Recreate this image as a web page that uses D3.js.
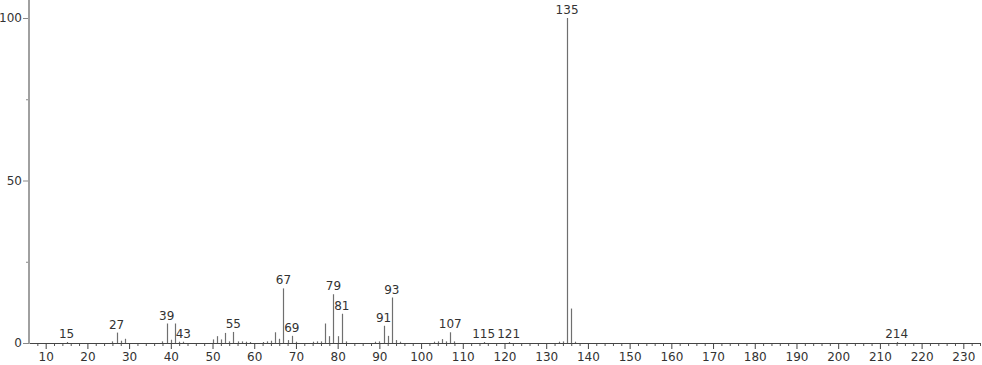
<!DOCTYPE html>
<html>
<head>
<meta charset="utf-8">
<script src="https://cdn.jsdelivr.net/npm/d3@7"></script>
<style>
  body { margin: 0; background: #fff; }
  svg text { font-family: "DejaVu Sans", sans-serif; }
</style>
</head>
<body>
<div class="data"></div>
<script>
// Peak list (m/z and relative intensity, %)
const mz = [15, 26, 27, 28, 29, 38, 39, 40, 41, 42, 43, 50, 51, 52, 53, 54, 55, 56, 57, 58, 59,
    62, 63, 64, 65, 66, 67, 68, 69, 70, 74, 75, 76, 77, 78, 79, 80, 81, 82,
    89, 90, 91, 92, 93, 94, 95, 103, 104, 105, 106, 107, 108, 115, 121,
    133, 134, 135, 136, 137, 214]
const intensity = [0.3, 0.5, 3.2, 0.7, 1.3, 0.5, 6.0, 1.0, 6.0, 0.4, 0.4, 1.1, 2.1, 1.1, 3.1, 0.5, 3.4, 0.5, 0.5, 0.4, 0.3,
    0.3, 0.5, 0.7, 3.3, 1.3, 16.8, 0.9, 2.2, 0.4, 0.4, 0.5, 0.5, 6.0, 2.1, 15.0, 2.1, 9.0, 0.5,
    0.4, 0.5, 5.3, 2.2, 14.0, 0.9, 0.4, 0.4, 0.5, 1.2, 0.5, 3.3, 0.5, 0.3, 0.3,
    0.4, 0.5, 100, 10.6, 0.4, 0.3]
// Peaks that carry a label
const labeled = [15, 27, 39, 43, 55, 67, 69, 79, 81, 91, 93, 107, 115, 121, 135, 214]

const xMajor = d3.range(10, 231, 10)
const xMinor = d3.range(8, 235, 2).filter(d => d % 10 !== 0)
const yMajor = [0, 50, 100]
const yMinor = [25, 75]

const width = 982, height = 365
const margin = {top: 18, left: 29, right: 2, bottom: 22}

const x = d3.scaleLinear()
    .domain([6, 234])
    .range([margin.left, width - margin.right])

const y = d3.scaleLinear()
    .domain([0, 100])
    .range([height - margin.bottom, margin.top])

const svg = d3.select(".data").append("svg")
    .attr("width", width)
    .attr("height", height)

const peaks = mz.map((m, i) => ({mz: m, value: intensity[i]}))

// bars (sticks)
svg.append("g")
    .selectAll("line")
    .data(peaks)
    .enter().append("line")
        .attr("x1", d => Math.round(x(d.mz)) + 0.5)
        .attr("x2", d => Math.round(x(d.mz)) + 0.5)
        .attr("y1", y(0))
        .attr("y2", d => y(d.value))
        .attr("stroke", "#6f6f6f")
        .attr("stroke-width", 1.2)

// minor ticks on x
svg.append("g")
    .attr("transform", "translate(0," + y(0) + ")")
    .call(d3.axisBottom(x).tickValues(xMinor).tickSize(3).tickFormat(""))
    .call(g => g.select(".domain").remove())
    .call(g => g.selectAll("line").attr("stroke", "#555"))

// x axis
svg.append("g")
    .attr("transform", "translate(0," + y(0) + ")")
    .call(d3.axisBottom(x).tickValues(xMajor).tickSize(6).tickSizeOuter(0).tickPadding(3))
    .call(g => g.select(".domain").attr("stroke", "#444"))
    .call(g => g.selectAll("line").attr("stroke", "#444"))
    .call(g => g.selectAll("text").attr("font-size", 12).attr("fill", "#333")
        .attr("font-family", "DejaVu Sans"))

// minor ticks on y
svg.append("g")
    .attr("transform", "translate(" + margin.left + ",0)")
    .call(d3.axisLeft(y).tickValues(yMinor).tickSize(3).tickFormat(""))
    .call(g => g.select(".domain").remove())
    .call(g => g.selectAll("line").attr("stroke", "#888"))

// y axis
svg.append("g")
    .attr("transform", "translate(" + margin.left + ",0)")
    .call(d3.axisLeft(y).tickValues(yMajor).tickSize(6).tickSizeOuter(0).tickPadding(1))
    .call(g => g.select(".domain").remove())
    .call(g => g.selectAll("line").attr("stroke", "#888"))
    .call(g => g.selectAll("text").attr("font-size", 12).attr("fill", "#333")
        .attr("font-family", "DejaVu Sans"))

svg.append("line")
    .attr("x1", margin.left).attr("x2", margin.left)
    .attr("y1", 0).attr("y2", y(0))
    .attr("stroke", "#a0a0a0")
    .attr("stroke-width", 2)

// peak labels
svg.append("g")
    .selectAll("text")
    .data(peaks.filter(d => labeled.includes(d.mz)))
    .enter().append("text")
        .attr("x", d => x(d.mz))
        .attr("y", d => y(d.value) - 4)
        .attr("text-anchor", "middle")
        .attr("font-size", 12)
        .attr("fill", "#333")
        .text(d => d.mz)
</script>
</body>
</html>
